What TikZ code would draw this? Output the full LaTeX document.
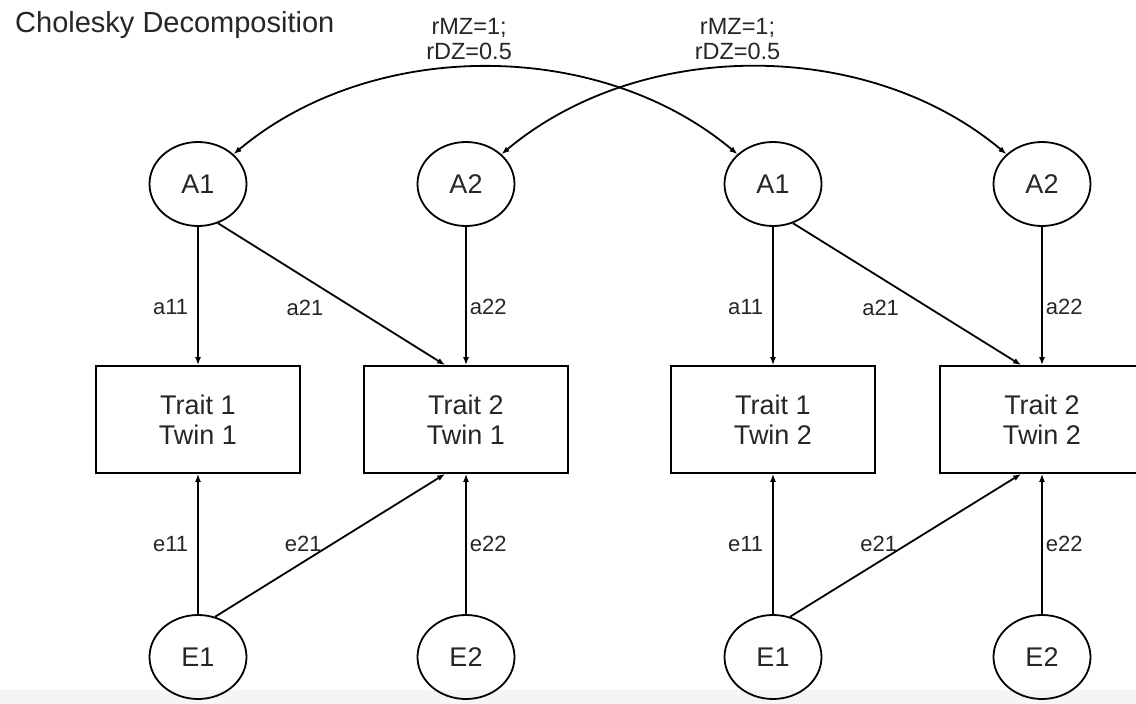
\documentclass[tikz,border=0pt]{standalone}
\usepackage{fontspec}
\setmainfont{Liberation Sans}
\usetikzlibrary{arrows.meta, shapes.geometric}

\begin{document}
\begin{tikzpicture}[x=1pt, y=1pt, line width=1.8pt, >={Latex[length=8pt,width=6pt]}]
\tikzstyle{latent}=[ellipse, draw, minimum width=97pt, minimum height=84pt, inner sep=0pt, text=black!85, font=\fontsize{27}{30}\selectfont]
\tikzstyle{trait}=[rectangle, draw, minimum width=204pt, minimum height=107pt, align=center, text=black!85, font=\fontsize{27}{30}\selectfont]
\tikzstyle{coef}=[inner sep=2pt, text=black!85, font=\fontsize{22}{24}\selectfont]
\tikzstyle{corr}=[inner sep=2pt, align=center, text=black!85, font=\fontsize{23.5}{25}\selectfont]
\useasboundingbox (0,0) rectangle (1136,-704);
\fill[black!4] (0,-690) rectangle (1136,-704);

\node[anchor=west, text=black!85, font=\fontsize{29}{32}\selectfont] (title) at (11,-25) {Cholesky Decomposition};

% twin 1
\node[latent] (A1one) at (198,-184) {A1};
\node[latent] (A2one) at (466,-184) {A2};
\node[trait] (T1one) at (198,-419.5) {Trait 1\\Twin 1};
\node[trait] (T2one) at (466,-419.5) {Trait 2\\Twin 1};
\node[latent] (E1one) at (198,-657) {E1};
\node[latent] (E2one) at (466,-657) {E2};

% twin 2
\node[latent] (A1two) at (773,-184) {A1};
\node[latent] (A2two) at (1042,-184) {A2};
\node[trait] (T1two) at (773,-419.5) {Trait 1\\Twin 2};
\node[trait] (T2two) at (1042,-419.5) {Trait 2\\Twin 2};
\node[latent] (E1two) at (773,-657) {E1};
\node[latent] (E2two) at (1042,-657) {E2};

\path[->]
   (A1one) edge node[coef, pos=0.58, left=7pt]{a11} (T1one)
   (A1one.-63) edge node[coef, pos=0.6, left=28pt]{a21} (T2one.111)
   (A2one) edge node[coef, pos=0.58, right=1pt]{a22} (T2one)
   (E1one) edge node[coef, left=7pt]{e11} (T1one)
   (E1one.67) edge node[coef, pos=0.51, left=8pt]{e21} (T2one.249)
   (E2one) edge node[coef, right=1pt]{e22} (T2one)
   (A1two) edge node[coef, pos=0.58, left=7pt]{a11} (T1two)
   (A1two.-63) edge node[coef, pos=0.6, left=28pt]{a21} (T2two.111)
   (A2two) edge node[coef, pos=0.58, right=1pt]{a22} (T2two)
   (E1two) edge node[coef, left=7pt]{e11} (T1two)
   (E1two.67) edge node[coef, pos=0.51, left=8pt]{e21} (T2two.249)
   (E2two) edge node[coef, right=1pt]{e22} (T2two)
   ;

\path[<->]
   (A1one) edge[out=40, in=140, looseness=0.92] node[corr, pos=0.47, above=5pt]{rMZ=1;\\rDZ=0.5} (A1two)
   (A2one) edge[out=40, in=140, looseness=0.92] node[corr, pos=0.47, above=5pt]{rMZ=1;\\rDZ=0.5} (A2two)
   ;
\end{tikzpicture}
\end{document}
